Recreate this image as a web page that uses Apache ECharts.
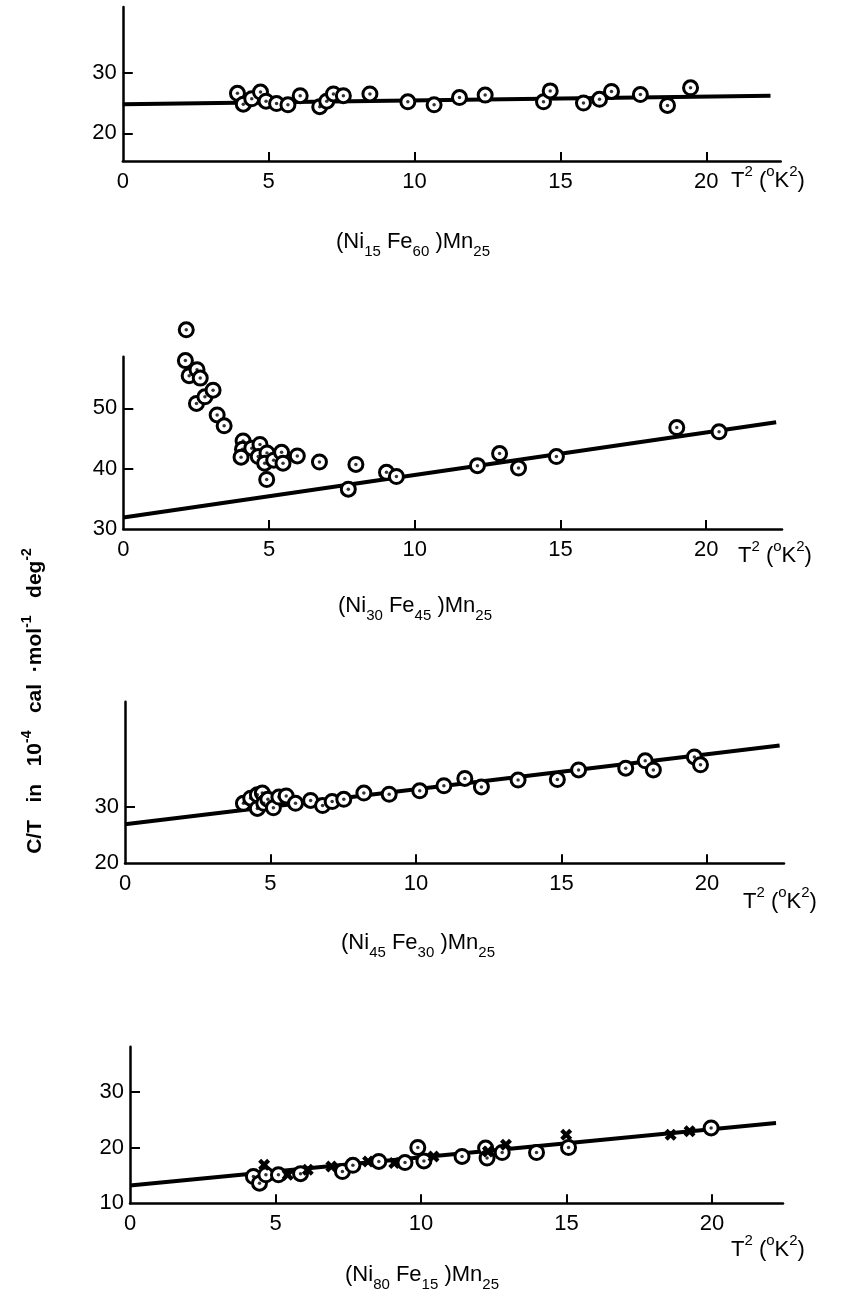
<!DOCTYPE html>
<html>
<head>
<meta charset="utf-8">
<script src="https://cdn.jsdelivr.net/npm/echarts@6/dist/echarts.min.js"></script>
<style>
html,body{margin:0;padding:0;background:#fff;}
#chart{width:841px;height:1291px;}
</style>
</head>
<body>
<div id="chart"></div>
<script>
// ---- data (T^2 in K^2, C/T in 1e-4 cal mol^-1 deg^-2) ----
const xTickLabels = [0, 5, 10, 15, 20];
const xTickMarks = [5, 10, 15, 20];

// Panel 1: (Ni15 Fe60) Mn25
const p1T2 = [3.93, 4.13, 4.42, 4.72, 4.91, 5.27, 5.66, 6.08, 6.75, 6.99, 7.22, 7.56, 8.47, 9.77, 10.67, 11.54, 12.42, 14.42, 14.65, 15.79, 16.34, 16.75, 17.74, 18.67, 19.46];
const p1CT = [26.6, 24.8, 25.7, 26.8, 25.3, 24.9, 24.7, 26.2, 24.4, 25.3, 26.5, 26.2, 26.5, 25.2, 24.7, 25.9, 26.3, 25.2, 27.0, 25.0, 25.6, 26.9, 26.4, 24.6, 27.5];
const p1FitT2 = [0, 22.2];
const p1FitCT = [24.8, 26.2];
const p1YLabels = [20, 30];

// Panel 2: (Ni30 Fe45) Mn25
const p2T2 = [2.16, 2.13, 2.26, 2.53, 2.64, 2.51, 2.80, 3.08, 3.22, 3.46, 4.11, 4.09, 4.04, 4.41, 4.69, 4.63, 4.93, 4.85, 4.92, 5.16, 5.43, 5.48, 5.97, 6.73, 7.98, 7.72, 9.03, 9.37, 12.15, 12.91, 13.56, 14.86, 18.99, 20.44];
const p2CT = [63.0, 57.9, 55.4, 56.4, 55.0, 50.8, 51.9, 53.0, 48.9, 47.1, 44.6, 43.2, 41.9, 43.4, 44.0, 42.0, 42.6, 40.9, 38.2, 41.4, 42.7, 40.9, 42.1, 41.1, 40.7, 36.6, 39.4, 38.7, 40.5, 42.5, 40.1, 42.0, 46.8, 46.1];
const p2FitT2 = [0, 22.4];
const p2FitCT = [31.9, 47.7];
const p2YLabels = [30, 40, 50];

// Panel 3: (Ni45 Fe30) Mn25
const p3T2 = [4.07, 4.32, 4.55, 4.72, 4.55, 4.77, 4.91, 5.10, 5.29, 5.54, 5.86, 6.38, 6.79, 7.12, 7.52, 8.21, 9.08, 10.13, 10.96, 11.68, 12.25, 13.51, 14.86, 15.59, 17.21, 17.88, 18.16, 19.57, 19.78];
const p3CT = [30.6, 31.5, 32.1, 32.4, 29.7, 30.6, 31.3, 29.8, 31.7, 31.9, 30.6, 31.1, 30.2, 30.9, 31.3, 32.4, 32.2, 32.8, 33.7, 35.0, 33.5, 34.7, 34.8, 36.5, 36.8, 38.1, 36.5, 38.8, 37.4];
const p3FitT2 = [0, 22.5];
const p3FitCT = [26.9, 40.8];
const p3YLabels = [20, 30];

// Panel 4: (Ni80 Fe15) Mn25  -- circles and crosses
const p4CircT2 = [4.24, 4.45, 4.67, 5.10, 5.86, 7.30, 7.66, 8.55, 9.45, 9.89, 10.10, 11.41, 12.22, 12.27, 12.79, 13.97, 15.07, 19.97];
const p4CircCT = [14.8, 13.6, 15.1, 15.1, 15.3, 15.7, 16.8, 17.5, 17.3, 20.0, 17.6, 18.4, 19.9, 18.1, 19.1, 19.1, 20.0, 23.5];
const p4CrossT2 = [4.61, 5.42, 6.11, 6.92, 8.18, 9.08, 10.43, 12.30, 12.92, 14.99, 18.58, 19.23];
const p4CrossCT = [16.9, 15.1, 16.0, 16.6, 17.5, 17.2, 18.4, 19.3, 20.5, 22.3, 22.3, 22.9];
const p4FitT2 = [0, 22.2];
const p4FitCT = [13.2, 24.4];
const p4YLabels = [10, 20, 30];

// ---- helpers ----
const zip = (a, b) => a.map((v, i) => [v, b[i]]);
const FONT = 'Liberation Sans, Arial, sans-serif';
const AXC = '#000';

const grids = [
  {left: 122.8, top: 7,     width: 657.9, height: 154,   xMax: 22.55, yMin: 15.43, yMax: 40.84, yLab: p1YLabels, yTick: [20, 30]},
  {left: 123.3, top: 356.7, width: 658.7, height: 172.3, xMax: 22.6,  yMin: 30,    yMax: 58.55, yLab: p2YLabels, yTick: [40, 50]},
  {left: 125,   top: 701.7, width: 659,   height: 161.6, xMax: 22.65, yMin: 20,    yMax: 48.55, yLab: p3YLabels, yTick: [30]},
  {left: 130,   top: 1046.7,width: 653,   height: 156.6, xMax: 22.44, yMin: 10,    yMax: 38.06, yLab: p4YLabels, yTick: [20, 30]}
];

const grid = grids.map(g => ({left: g.left, top: g.top, width: g.width, height: g.height, containLabel: false, outerBoundsMode: 'none'}));
const xAxis = grids.map((g, i) => ({
  type: 'value', gridIndex: i, min: 0, max: g.xMax,
  splitLine: {show: false},
  axisLine: {show: true, onZero: false, lineStyle: {color: AXC, width: 2.5}},
  axisTick: {show: true, inside: true, length: 9, customValues: xTickMarks, lineStyle: {color: AXC, width: 2}},
  axisLabel: {show: true, customValues: xTickLabels, margin: 10, color: AXC, fontFamily: FONT, fontSize: 22}
}));
const yAxis = grids.map((g, i) => ({
  type: 'value', gridIndex: i, min: g.yMin, max: g.yMax,
  splitLine: {show: false},
  axisLine: {show: true, onZero: false, lineStyle: {color: AXC, width: 2.5}},
  axisTick: {show: true, inside: true, length: 10, customValues: g.yTick, lineStyle: {color: AXC, width: 2}},
  axisLabel: {show: true, customValues: g.yLab, margin: 6, color: AXC, fontFamily: FONT, fontSize: 22}
}));

function fitLine(i, xs, ys) {
  return {type: 'line', xAxisIndex: i, yAxisIndex: i, data: zip(xs, ys), symbol: 'none', silent: true, z: 2,
    lineStyle: {color: '#000', width: 4}};
}
function rings(i, xs, ys) {
  return [
    {type: 'scatter', xAxisIndex: i, yAxisIndex: i, data: zip(xs, ys), symbol: 'circle', symbolSize: 14, clip: false, z: 3,
      itemStyle: {color: '#fff', borderColor: '#000', borderWidth: 3, opacity: 1}},
    {type: 'scatter', xAxisIndex: i, yAxisIndex: i, data: zip(xs, ys), symbol: 'circle', symbolSize: 3.5, clip: false, z: 4,
      itemStyle: {color: '#000'}}
  ];
}
const crossPath = 'path://M0,2.5 L2.5,0 L5,2.5 L7.5,0 L10,2.5 L7.5,5 L10,7.5 L7.5,10 L5,7.5 L2.5,10 L0,7.5 L2.5,5 Z';

const series = [
  fitLine(0, p1FitT2, p1FitCT), ...rings(0, p1T2, p1CT),
  fitLine(1, p2FitT2, p2FitCT), ...rings(1, p2T2, p2CT),
  fitLine(2, p3FitT2, p3FitCT), ...rings(2, p3T2, p3CT),
  fitLine(3, p4FitT2, p4FitCT), ...rings(3, p4CircT2, p4CircCT),
  {type: 'scatter', xAxisIndex: 3, yAxisIndex: 3, data: zip(p4CrossT2, p4CrossCT), symbol: crossPath, symbolSize: 12, clip: false, z: 4,
    itemStyle: {color: '#000', opacity: 1}}
];

const richDef = {
  sub: {fontFamily: FONT, fontSize: 15, fill: '#000', verticalAlign: 'bottom', lineHeight: 34},
  sup: {fontFamily: FONT, fontSize: 15, fill: '#000', verticalAlign: 'top', lineHeight: 34},
  n: {fontFamily: FONT, fontSize: 22, fill: '#000', lineHeight: 34}
};
function txt(x, y, text, align) {
  return {type: 'text', x: x, y: y, silent: true,
    style: {text: text, fill: '#000', font: '22px ' + FONT, textAlign: align || 'center', textVerticalAlign: 'middle', rich: richDef}};
}
const units = '{n|T}{sup|2} {n|(}{sup|o}{n|K}{sup|2}{n|)}';

const graphic = [
  txt(731, 181, units, 'left'),
  txt(738, 556, units, 'left'),
  txt(743, 902, units, 'left'),
  txt(731, 1250, units, 'left'),
  txt(413, 242, '{n|(Ni}{sub|15}{n| Fe}{sub|60}{n| )Mn}{sub|25}'),
  txt(415, 606, '{n|(Ni}{sub|30}{n| Fe}{sub|45}{n| )Mn}{sub|25}'),
  txt(418, 943, '{n|(Ni}{sub|45}{n| Fe}{sub|30}{n| )Mn}{sub|25}'),
  txt(422, 1275, '{n|(Ni}{sub|80}{n| Fe}{sub|15}{n| )Mn}{sub|25}'),
  {type: 'text', x: 35, y: 701, rotation: Math.PI / 2, silent: true,
    style: {text: '{t|C/T   in   10}{s|-4}{t|   cal  ·mol}{s|-1}{t|   deg}{s|-2}', textAlign: 'center', textVerticalAlign: 'middle',
      rich: {
        t: {fontFamily: FONT, fontSize: 21, fontWeight: 'bold', fill: '#000', lineHeight: 30},
        s: {fontFamily: FONT, fontSize: 14, fontWeight: 'bold', fill: '#000', verticalAlign: 'top', lineHeight: 30}
      }}}
];

const chart = echarts.init(document.getElementById('chart'), null, {renderer: 'canvas'});
chart.setOption({animation: false, backgroundColor: '#fff', grid, xAxis, yAxis, series, graphic});
</script>
</body>
</html>
